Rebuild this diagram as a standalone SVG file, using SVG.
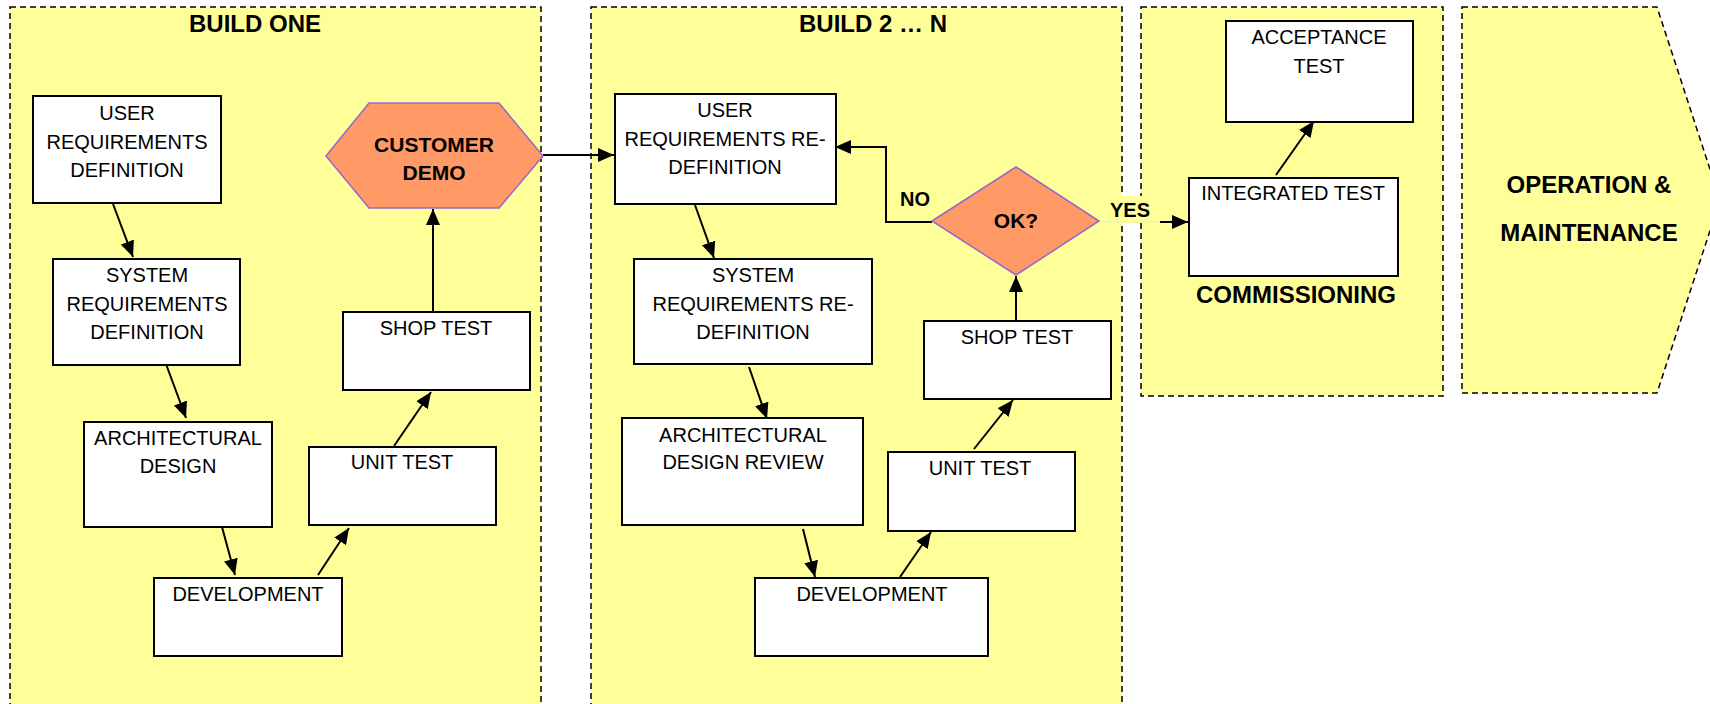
<svg xmlns="http://www.w3.org/2000/svg" width="1710" height="704" viewBox="0 0 1710 704">
<style>
.panel{fill:#FFFF99;stroke:#000;stroke-width:1.5;stroke-dasharray:6 4}
.box{fill:#fff;stroke:#000;stroke-width:2}
.dec{fill:#FF9966;stroke:#9966CC;stroke-width:1.5}
.t{font-family:"Liberation Sans",Arial,sans-serif;font-size:20px;fill:#000;text-anchor:middle}
.b{font-family:"Liberation Sans",Arial,sans-serif;font-weight:bold;font-size:21px;fill:#000;text-anchor:middle}
.h{font-family:"Liberation Sans",Arial,sans-serif;font-weight:bold;font-size:24px;fill:#000;text-anchor:middle}
.c{fill:none;stroke:#000;stroke-width:2}
</style>
<defs>
<marker id="ah" markerUnits="userSpaceOnUse" markerWidth="16" markerHeight="14" refX="16" refY="7" orient="auto">
<path d="M0,0 L16,7 L0,14 z" fill="#000"/>
</marker>
</defs>
<rect width="1710" height="704" fill="#fff"/>
<g id="panel-build-one">
<rect class="panel" x="10" y="7" width="531" height="720"/>
<text class="h" x="255" y="32">BUILD ONE</text>
</g>
<g id="panel-build-n">
<rect class="panel" x="591" y="7" width="531" height="720"/>
<text class="h" x="873" y="32">BUILD 2 … N</text>
</g>
<g id="panel-commissioning">
<rect class="panel" x="1141" y="7" width="302" height="389"/>
<text class="h" x="1296" y="303">COMMISSIONING</text>
</g>
<g id="panel-operation">
<polygon class="panel" points="1462,7 1657,7 1720,200 1657,393 1462,393"/>
<text class="h" x="1589" y="193">OPERATION &amp;</text>
<text class="h" x="1589" y="241">MAINTENANCE</text>
</g>

<g id="connectors">
<line class="c" x1="113" y1="204" x2="133" y2="257" marker-end="url(#ah)"/>
<line class="c" x1="166" y1="364" x2="186" y2="418" marker-end="url(#ah)"/>
<line class="c" x1="222" y1="527" x2="235" y2="575" marker-end="url(#ah)"/>
<line class="c" x1="318" y1="575" x2="349" y2="528" marker-end="url(#ah)"/>
<line class="c" x1="394" y1="446" x2="431" y2="392" marker-end="url(#ah)"/>
<line class="c" x1="433" y1="312" x2="433" y2="209" marker-end="url(#ah)"/>
<line class="c" x1="543" y1="155" x2="614" y2="155" marker-end="url(#ah)"/>
<line class="c" x1="695" y1="205" x2="714" y2="258" marker-end="url(#ah)"/>
<line class="c" x1="749" y1="367" x2="767" y2="419" marker-end="url(#ah)"/>
<line class="c" x1="803" y1="529" x2="815" y2="577" marker-end="url(#ah)"/>
<line class="c" x1="900" y1="577" x2="931" y2="532" marker-end="url(#ah)"/>
<line class="c" x1="974" y1="449" x2="1013" y2="400" marker-end="url(#ah)"/>
<line class="c" x1="1016" y1="321" x2="1016" y2="276" marker-end="url(#ah)"/>
<polyline class="c" points="932,222 886,222 886,147 835,147" marker-end="url(#ah)"/>
<rect x="1100" y="196" width="60" height="27" fill="#FFFF99"/>
<line x1="1099" y1="222" x2="1160" y2="222" stroke="#EEEEB8" stroke-width="1"/>
<line class="c" x1="1160" y1="222" x2="1188" y2="222" marker-end="url(#ah)"/>
<line class="c" x1="1276" y1="175" x2="1314" y2="121" marker-end="url(#ah)"/>
<text class="b" x="915" y="206" style="font-size:20px">NO</text>
<text class="b" x="1130" y="217" style="font-size:20px">YES</text>
</g>

<g id="user-req-def">
<rect class="box" x="33" y="96" width="188" height="107"/>
<text class="t" x="127" y="120">USER</text>
<text class="t" x="127" y="149">REQUIREMENTS</text>
<text class="t" x="127" y="177">DEFINITION</text>
</g>
<g id="sys-req-def">
<rect class="box" x="53" y="259" width="187" height="106"/>
<text class="t" x="147" y="282">SYSTEM</text>
<text class="t" x="147" y="311">REQUIREMENTS</text>
<text class="t" x="147" y="339">DEFINITION</text>
</g>
<g id="arch-design">
<rect class="box" x="84" y="422" width="188" height="105"/>
<text class="t" x="178" y="445">ARCHITECTURAL</text>
<text class="t" x="178" y="473">DESIGN</text>
</g>
<g id="development-1">
<rect class="box" x="154" y="578" width="188" height="78"/>
<text class="t" x="248" y="601">DEVELOPMENT</text>
</g>
<g id="unit-test-1">
<rect class="box" x="309" y="447" width="187" height="78"/>
<text class="t" x="402" y="469">UNIT TEST</text>
</g>
<g id="shop-test-1">
<rect class="box" x="343" y="312" width="187" height="78"/>
<text class="t" x="436" y="335">SHOP TEST</text>
</g>
<g id="customer-demo">
<polygon class="dec" points="326,156 369,103 499,103 543,156 499,208 369,208"/>
<text class="b" x="434" y="152">CUSTOMER</text>
<text class="b" x="434" y="180">DEMO</text>
</g>

<g id="user-req-redef">
<rect class="box" x="615" y="94" width="221" height="110"/>
<text class="t" x="725" y="117">USER</text>
<text class="t" x="725" y="146">REQUIREMENTS RE-</text>
<text class="t" x="725" y="174">DEFINITION</text>
</g>
<g id="sys-req-redef">
<rect class="box" x="634" y="259" width="238" height="105"/>
<text class="t" x="753" y="282">SYSTEM</text>
<text class="t" x="753" y="311">REQUIREMENTS RE-</text>
<text class="t" x="753" y="339">DEFINITION</text>
</g>
<g id="arch-design-review">
<rect class="box" x="622" y="418" width="241" height="107"/>
<text class="t" x="743" y="442">ARCHITECTURAL</text>
<text class="t" x="743" y="469">DESIGN REVIEW</text>
</g>
<g id="development-2">
<rect class="box" x="755" y="578" width="233" height="78"/>
<text class="t" x="872" y="601">DEVELOPMENT</text>
</g>
<g id="unit-test-2">
<rect class="box" x="888" y="452" width="187" height="79"/>
<text class="t" x="980" y="475">UNIT TEST</text>
</g>
<g id="shop-test-2">
<rect class="box" x="924" y="321" width="187" height="78"/>
<text class="t" x="1017" y="344">SHOP TEST</text>
</g>
<g id="ok-decision">
<polygon class="dec" points="932,221 1016,167 1099,221 1016,275"/>
<text class="b" x="1016" y="228">OK?</text>
</g>

<g id="integrated-test">
<rect class="box" x="1189" y="178" width="209" height="98"/>
<text class="t" x="1293" y="200">INTEGRATED TEST</text>
</g>
<g id="acceptance-test">
<rect class="box" x="1226" y="21" width="187" height="101"/>
<text class="t" x="1319" y="44">ACCEPTANCE</text>
<text class="t" x="1319" y="73">TEST</text>
</g>
</svg>
